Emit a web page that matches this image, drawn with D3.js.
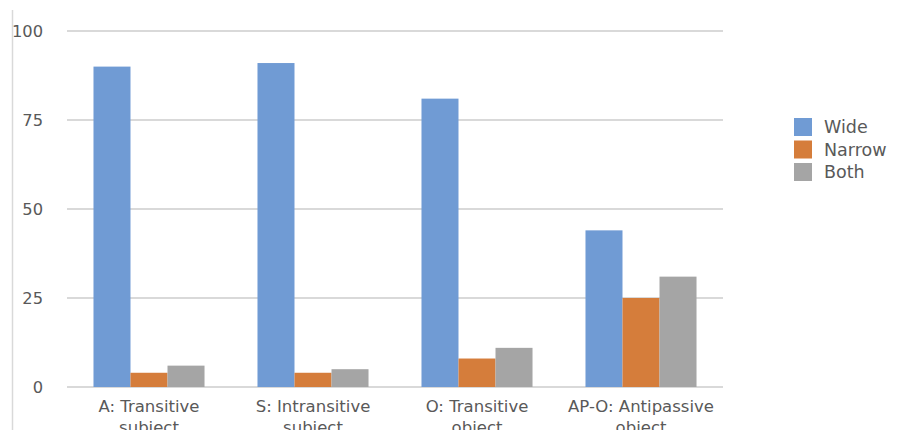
<!DOCTYPE html>
<html>
<head>
<meta charset="utf-8">
<script src="https://cdnjs.cloudflare.com/ajax/libs/d3/7.8.5/d3.min.js"></script>
<style>
  body { margin: 0; background: #fff; }
  text { font-family: "DejaVu Sans", sans-serif; fill: #595959; }
</style>
</head>
<body>
<svg width="907" height="430"></svg>
<script>
// chart data
var categories = [
    ['A: Transitive', 'subject'],
    ['S: Intransitive', 'subject'],
    ['O: Transitive', 'object'],
    ['AP-O: Antipassive', 'object']
];
var seriesNames = ['Wide', 'Narrow', 'Both'];
var wideValues = [90, 91, 81, 44];
var narrowValues = [4, 4, 8, 25];
var bothValues = [6, 5, 11, 31];
var yTicks = [0, 25, 50, 75, 100];
var colors = ['#709bd4', '#d57d3b', '#a5a5a5'];

var svg = d3.select('svg');

var padding = {t: 31, l: 67, r: 184, b: 43};
var chartWidth = 907 - padding.l - padding.r;
var chartHeight = 430 - padding.t - padding.b;

// frame line on the left
svg.append('line')
    .attr('x1', 12.5).attr('x2', 12.5)
    .attr('y1', 10).attr('y2', 430)
    .attr('stroke', '#d9d9d9')
    .attr('stroke-width', 1.5);

var chartG = svg.append('g')
    .attr('transform', 'translate(' + [padding.l, padding.t] + ')');

var xScale = d3.scaleBand()
    .domain(d3.range(categories.length))
    .range([0, chartWidth])
    .paddingInner(0.323)
    .paddingOuter(0.1615);

var subScale = d3.scaleBand()
    .domain(seriesNames)
    .range([0, xScale.bandwidth()]);

var yScale = d3.scaleLinear()
    .domain([0, 100])
    .range([chartHeight, 0]);

// gridlines
chartG.selectAll('.grid')
    .data(yTicks)
    .enter()
    .append('line')
    .attr('class', 'grid')
    .attr('x1', 0).attr('x2', chartWidth)
    .attr('y1', function(d) { return yScale(d); })
    .attr('y2', function(d) { return yScale(d); })
    .attr('stroke', '#d9d9d9')
    .attr('stroke-width', 2);

// y tick labels
chartG.selectAll('.ytick')
    .data(yTicks)
    .enter()
    .append('text')
    .attr('class', 'ytick')
    .attr('x', -24)
    .attr('y', function(d) { return yScale(d); })
    .attr('dy', '0.36em')
    .attr('text-anchor', 'end')
    .style('font-size', '16.3px')
    .text(function(d) { return d; });

// bars
var table = categories.map(function(c, i) {
    return [wideValues[i], narrowValues[i], bothValues[i]];
});

var groups = chartG.selectAll('.group')
    .data(table)
    .enter()
    .append('g')
    .attr('class', 'group')
    .attr('transform', function(d, i) { return 'translate(' + xScale(i) + ',0)'; });

groups.selectAll('rect')
    .data(function(d) { return d.map(function(v, j) { return {name: seriesNames[j], value: v, j: j}; }); })
    .enter()
    .append('rect')
    .attr('x', function(d) { return subScale(d.name); })
    .attr('width', subScale.bandwidth())
    .attr('y', function(d) { return yScale(d.value); })
    .attr('height', function(d) { return yScale(0) - yScale(d.value); })
    .attr('fill', function(d) { return colors[d.j]; });

// category labels
var labels = chartG.selectAll('.xlabel')
    .data(categories)
    .enter()
    .append('text')
    .attr('class', 'xlabel')
    .attr('text-anchor', 'middle')
    .style('font-size', '16.5px')
    .attr('transform', function(d, i) {
        return 'translate(' + [xScale(i) + xScale.bandwidth() / 2, chartHeight + 25] + ')';
    });

labels.selectAll('tspan')
    .data(function(d) { return d; })
    .enter()
    .append('tspan')
    .attr('x', 0)
    .attr('y', function(d, k) { return k * 20.5; })
    .text(function(d) { return d; });

// legend
var legend = svg.append('g')
    .attr('transform', 'translate(794,118)');

var items = legend.selectAll('.item')
    .data(seriesNames)
    .enter()
    .append('g')
    .attr('class', 'item')
    .attr('transform', function(d, i) { return 'translate(0,' + (i * 22.5) + ')'; });

items.append('rect')
    .attr('width', 18)
    .attr('height', 18)
    .attr('fill', function(d, i) { return colors[i]; });

items.append('text')
    .attr('x', 30)
    .attr('y', 9)
    .attr('dy', '0.36em')
    .style('font-size', '17.5px')
    .text(function(d) { return d; });
</script>
</body>
</html>
